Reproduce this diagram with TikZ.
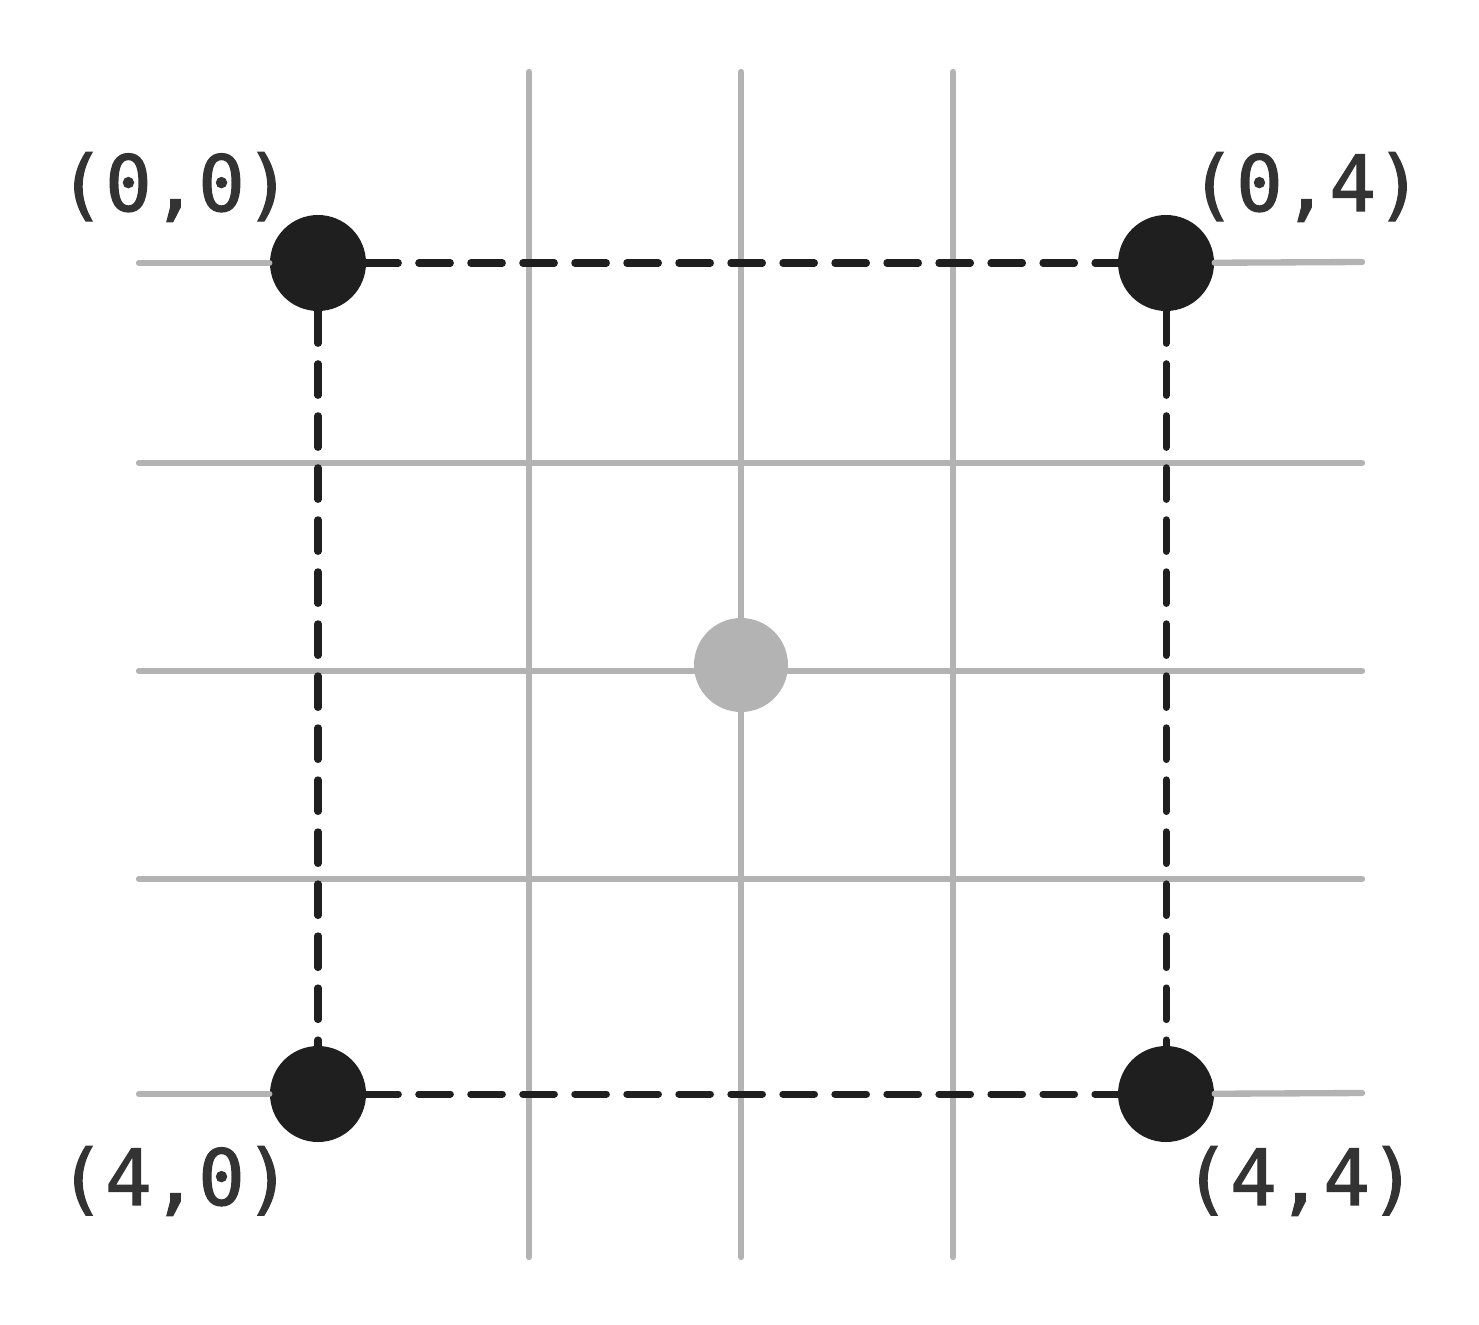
\documentclass[tikz,border=0pt]{standalone}
\usepackage{fontspec}
\newfontfamily\labelfont[FakeBold=1.6]{DejaVu Sans Mono}
\usepackage{tikz}
\definecolor{gridgray}{RGB}{179, 179, 179}
\definecolor{dotdark}{RGB}{31, 31, 31}
\definecolor{textdark}{RGB}{51, 51, 51}
\tikzset{
  gridline/.style={gridgray, line width=1.8pt, line cap=round},
  edgeline/.style={dotdark, line width=2pt, line cap=round, dash pattern=on 9pt off 5.8pt},
  corner/.style={circle, fill=dotdark, minimum size=0.96cm, inner sep=0pt},
  centre/.style={circle, fill=gridgray, minimum size=0.94cm, inner sep=0pt},
  coordlabel/.style={textdark, font=\labelfont\fontsize{22}{22}\selectfont}
}

\begin{document}
\begin{tikzpicture}[scale=1.0]

  \useasboundingbox (0, 0) rectangle (14.79, 13.24);

  % grid
  \foreach \x in {5.29, 7.41, 9.53}
    \draw[gridline] (\x, 0.67) -- (\x, 12.52);
  \foreach \y in {8.61, 6.53, 4.45}
    \draw[gridline] (1.39, \y) -- (13.62, \y);

  \coordinate (tlend) at (1.39, 10.61);
  \coordinate (trend) at (13.62, 10.62);
  \coordinate (blend) at (1.39, 2.30);
  \coordinate (brend) at (13.62, 2.31);

  \node[corner] (tl) at (3.18, 10.61) {};
  \node[corner] (tr) at (11.66, 10.61) {};
  \node[corner] (bl) at (3.18, 2.30) {};
  \node[corner] (br) at (11.66, 2.30) {};
  \node[centre] (mid) at (7.41, 6.59) {};

  \draw[gridline] (tlend) -- (tl);
  \draw[gridline] (tr) -- (trend);
  \draw[gridline] (blend) -- (bl);
  \draw[gridline] (br) -- (brend);

  % dashed square
  \draw[edgeline] (tl) -- (tr);
  \draw[edgeline] (tl) -- (bl);
  \draw[edgeline] (bl) -- (br);
  \draw[edgeline] (tr) -- (br);

  \node[coordlabel] (ltl) at (1.75, 11.37) {(0,0)};
  \node[coordlabel] (ltr) at (13.06, 11.37) {(0,4)};
  \node[coordlabel] (lbl) at (1.75, 1.43) {(4,0)};
  \node[coordlabel] (lbr) at (13.00, 1.43) {(4,4)};

\end{tikzpicture}
\end{document}
